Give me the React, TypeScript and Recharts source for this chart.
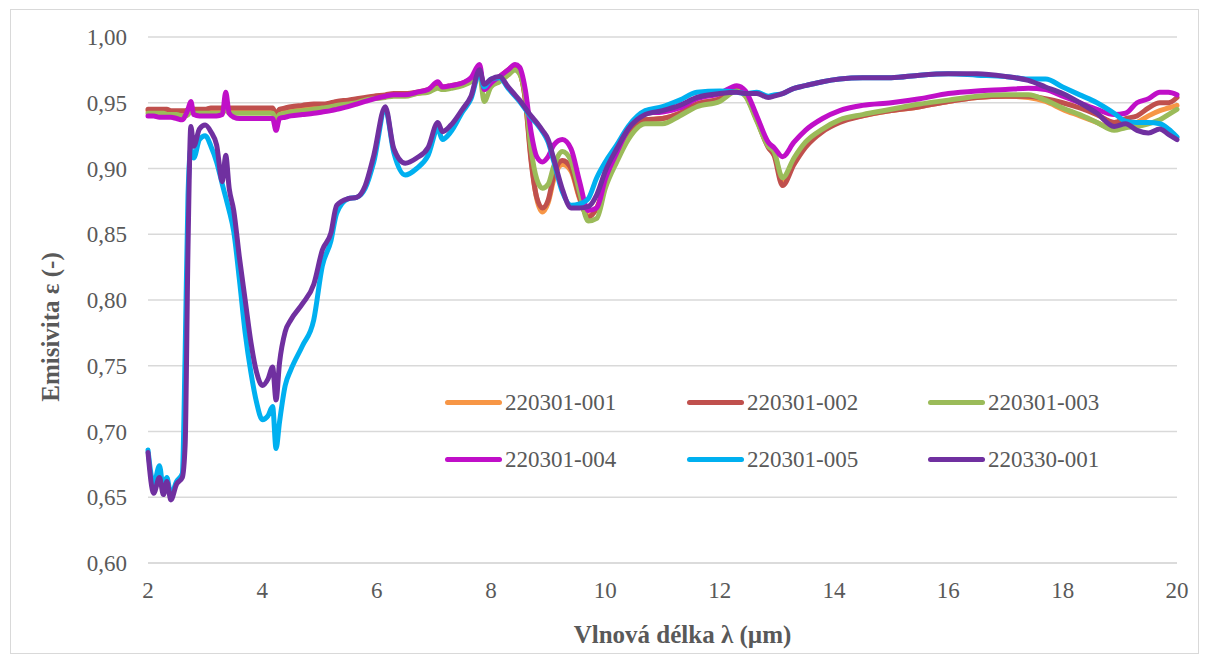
import React from 'react';
import { LineChart, Line, XAxis, YAxis, CartesianGrid, Legend, Label } from 'recharts';

// Wavelength grid (µm)
const wavelengths = [
  2.0, 2.1, 2.2, 2.27, 2.33, 2.4, 2.5, 2.6, 2.65, 2.7,
  2.75, 2.8, 2.9, 3.0, 3.1, 3.2, 3.3, 3.36, 3.42, 3.5,
  3.6, 3.7, 3.8, 3.9, 4.0, 4.1, 4.18, 4.24, 4.3, 4.4,
  4.5, 4.7, 4.9, 5.05, 5.2, 5.3, 5.5, 5.65, 5.8, 5.95,
  6.15, 6.3, 6.5, 6.7, 6.9, 7.07, 7.15, 7.3, 7.5, 7.65,
  7.8, 7.88, 8.0, 8.15, 8.3, 8.42, 8.5, 8.6, 8.7, 8.8,
  8.9, 9.0, 9.1, 9.25, 9.4, 9.55, 9.7, 9.85, 10.0, 10.2,
  10.4, 10.7, 11.0, 11.3, 11.6, 12.0, 12.3, 12.45, 12.65, 12.85,
  12.95, 13.1, 13.3, 13.5, 13.8, 14.1, 14.5, 15.0, 15.5, 16.0,
  16.5, 17.0, 17.4, 17.7, 18.0, 18.3, 18.6, 18.9, 19.1, 19.3,
  19.5, 19.7, 19.85, 20.0,
];

const s220301_001 = [
  0.944, 0.944, 0.944, 0.944, 0.944, 0.943, 0.943, 0.943, 0.943, 0.944,
  0.946, 0.944, 0.944, 0.944, 0.945, 0.945, 0.945, 0.947, 0.945, 0.945,
  0.945, 0.945, 0.945, 0.945, 0.945, 0.945, 0.945, 0.940, 0.944, 0.945,
  0.946, 0.947, 0.948, 0.948, 0.949, 0.950, 0.951, 0.952, 0.953, 0.954,
  0.955, 0.956, 0.956, 0.957, 0.959, 0.962, 0.961, 0.962, 0.964, 0.967,
  0.974, 0.960, 0.965, 0.969, 0.974, 0.977, 0.973, 0.953, 0.908, 0.877,
  0.867, 0.874, 0.892, 0.903, 0.898, 0.877, 0.864, 0.870, 0.888, 0.909,
  0.925, 0.937, 0.938, 0.942, 0.949, 0.953, 0.960, 0.956, 0.937, 0.917,
  0.912, 0.891, 0.905, 0.917, 0.929, 0.936, 0.940, 0.944, 0.947, 0.951,
  0.954, 0.955, 0.954, 0.951, 0.945, 0.940, 0.935, 0.930, 0.932, 0.935,
  0.940, 0.944, 0.946, 0.948,
];

const s220301_002 = [
  0.945, 0.945, 0.945, 0.945, 0.945, 0.944, 0.944, 0.944, 0.944, 0.945,
  0.947, 0.945, 0.945, 0.945, 0.946, 0.946, 0.946, 0.948, 0.946, 0.946,
  0.946, 0.946, 0.946, 0.946, 0.946, 0.946, 0.946, 0.941, 0.945, 0.946,
  0.947, 0.948, 0.949, 0.949, 0.950, 0.951, 0.952, 0.953, 0.954, 0.955,
  0.956, 0.957, 0.957, 0.958, 0.960, 0.963, 0.962, 0.963, 0.965, 0.968,
  0.975, 0.962, 0.966, 0.970, 0.975, 0.978, 0.974, 0.952, 0.906, 0.878,
  0.870, 0.876, 0.895, 0.906, 0.900, 0.878, 0.863, 0.870, 0.888, 0.910,
  0.925, 0.937, 0.938, 0.942, 0.949, 0.953, 0.960, 0.956, 0.937, 0.916,
  0.910, 0.887, 0.903, 0.916, 0.928, 0.935, 0.940, 0.944, 0.947, 0.951,
  0.954, 0.955, 0.955, 0.953, 0.950, 0.946, 0.941, 0.935, 0.938, 0.940,
  0.946, 0.950, 0.950, 0.954,
];

const s220301_003 = [
  0.942, 0.942, 0.942, 0.942, 0.941, 0.941, 0.941, 0.940, 0.940, 0.941,
  0.944, 0.942, 0.942, 0.942, 0.942, 0.942, 0.942, 0.945, 0.942, 0.942,
  0.942, 0.942, 0.942, 0.942, 0.942, 0.942, 0.942, 0.937, 0.941, 0.942,
  0.943, 0.944, 0.945, 0.946, 0.947, 0.948, 0.949, 0.950, 0.952, 0.953,
  0.954, 0.955, 0.955, 0.957, 0.958, 0.961, 0.960, 0.961, 0.963, 0.966,
  0.972, 0.951, 0.962, 0.966, 0.971, 0.975, 0.972, 0.955, 0.915, 0.892,
  0.885, 0.888, 0.902, 0.913, 0.906, 0.882, 0.860, 0.862, 0.885, 0.905,
  0.922, 0.934, 0.934, 0.940, 0.947, 0.951, 0.959, 0.955, 0.936, 0.917,
  0.913, 0.893, 0.908, 0.920, 0.930, 0.937, 0.941, 0.945, 0.949, 0.952,
  0.955, 0.956, 0.956, 0.952, 0.946, 0.941, 0.935, 0.929, 0.931, 0.932,
  0.934, 0.937, 0.941, 0.945,
];

const s220301_004 = [
  0.940, 0.940, 0.939, 0.939, 0.939, 0.939, 0.938, 0.937, 0.940, 0.945,
  0.951, 0.941, 0.940, 0.940, 0.940, 0.940, 0.941, 0.958, 0.942, 0.939,
  0.938, 0.938, 0.938, 0.938, 0.938, 0.938, 0.938, 0.929, 0.938, 0.939,
  0.940, 0.941, 0.942, 0.943, 0.944, 0.945, 0.947, 0.949, 0.951, 0.953,
  0.955, 0.956, 0.956, 0.958, 0.960, 0.966, 0.962, 0.963, 0.965, 0.969,
  0.979, 0.960, 0.965, 0.970, 0.975, 0.979, 0.977, 0.960, 0.928, 0.909,
  0.905, 0.909, 0.918, 0.922, 0.915, 0.890, 0.868, 0.870, 0.892, 0.912,
  0.930, 0.942, 0.943, 0.946, 0.953, 0.957, 0.963, 0.959, 0.940, 0.920,
  0.916, 0.909, 0.920, 0.929, 0.938, 0.944, 0.948, 0.950, 0.953, 0.957,
  0.959, 0.960, 0.961, 0.960, 0.955, 0.950, 0.945, 0.941, 0.942, 0.950,
  0.953, 0.958, 0.958, 0.956,
];

const s220301_005 = [
  0.686, 0.660, 0.674, 0.656, 0.665, 0.652, 0.662, 0.668, 0.760, 0.880,
  0.915, 0.908, 0.922, 0.925, 0.917, 0.905, 0.888, 0.878, 0.868, 0.852,
  0.815, 0.775, 0.745, 0.722, 0.709, 0.712, 0.719, 0.687, 0.707, 0.735,
  0.747, 0.765, 0.785, 0.826, 0.845, 0.866, 0.877, 0.878, 0.885, 0.905,
  0.945, 0.912, 0.895, 0.900, 0.910, 0.930, 0.922, 0.928, 0.943, 0.953,
  0.973, 0.962, 0.968, 0.969, 0.961, 0.955, 0.951, 0.945, 0.939, 0.934,
  0.928, 0.920, 0.905, 0.882, 0.872, 0.873, 0.877, 0.893, 0.905, 0.918,
  0.932, 0.944, 0.947, 0.952, 0.958, 0.959, 0.958, 0.957, 0.958, 0.955,
  0.956, 0.957, 0.961, 0.963, 0.966, 0.968, 0.969, 0.969, 0.971, 0.972,
  0.971, 0.970, 0.968, 0.968, 0.962, 0.956, 0.950, 0.942, 0.936, 0.935,
  0.935, 0.934, 0.930, 0.924,
];

const s220330_001 = [
  0.684, 0.653, 0.665, 0.652, 0.662, 0.648, 0.660, 0.665, 0.690, 0.840,
  0.932, 0.917, 0.930, 0.933, 0.928, 0.918, 0.890, 0.910, 0.885, 0.868,
  0.832, 0.800, 0.768, 0.745, 0.735, 0.740, 0.749, 0.724, 0.752, 0.776,
  0.785, 0.797, 0.812, 0.838, 0.851, 0.872, 0.877, 0.878, 0.887, 0.910,
  0.947, 0.915, 0.904, 0.908, 0.916, 0.935, 0.928, 0.933, 0.945, 0.955,
  0.975, 0.964, 0.968, 0.970, 0.962, 0.956, 0.952, 0.946, 0.940, 0.935,
  0.929, 0.922, 0.907, 0.884, 0.870, 0.870, 0.871, 0.880, 0.898, 0.915,
  0.930, 0.941, 0.944, 0.948, 0.954, 0.957, 0.958, 0.957, 0.957, 0.954,
  0.955, 0.957, 0.961, 0.963, 0.966, 0.968, 0.969, 0.969, 0.971, 0.972,
  0.972, 0.970, 0.967, 0.962, 0.957, 0.950, 0.942, 0.932, 0.934, 0.929,
  0.927, 0.930, 0.926, 0.922,
];

const seriesNames = ['220301-001', '220301-002', '220301-003', '220301-004', '220301-005', '220330-001'];
const seriesValues = [s220301_001, s220301_002, s220301_003, s220301_004, s220301_005, s220330_001];
const seriesColors = ['#F79646', '#C0504D', '#9BBB59', '#C00FC8', '#00B0F0', '#7030A0'];

const xTicks = [2, 4, 6, 8, 10, 12, 14, 16, 18, 20];
const yTicks = [0.6, 0.65, 0.7, 0.75, 0.8, 0.85, 0.9, 0.95, 1.0];

const xTitle = 'Vlnová délka λ (µm)';
const yTitle = 'Emisivita ε (-)';

const data = wavelengths.map((w, i) => {
  const row: Record<string, number> = { w };
  seriesValues.forEach((arr, k) => {
    row['s' + k] = arr[i];
  });
  return row;
});

const FONT = '"Liberation Serif", "Times New Roman", serif';
const TEXT = '#595959';
const GRID = '#d9d9d9';

const legendCols = [0, 242, 483];

const renderLegend = () => (
  <div style={{ position: 'relative', width: 700, height: 114, fontFamily: FONT }}>
    {seriesNames.map((n, i) => {
      const col = i % 3;
      const row = Math.floor(i / 3);
      return (
        <div
          key={n}
          style={{
            position: 'absolute',
            left: legendCols[col],
            top: row * 57,
            height: 57,
            display: 'flex',
            alignItems: 'center',
          }}
        >
          <div style={{ width: 57, height: 5, borderRadius: 3, background: seriesColors[i] }} />
          <span style={{ marginLeft: 3, fontSize: 23, color: TEXT, whiteSpace: 'nowrap', lineHeight: '57px' }}>{n}</span>
        </div>
      );
    })}
  </div>
);

export default function App() {
  return (
    <div style={{ position: 'absolute', left: 0, top: 0, width: 1209, height: 664, background: '#fff' }}>
      <div
        style={{
          position: 'absolute',
          left: 10,
          top: 9,
          width: 1189,
          height: 645,
          border: '1px solid #d9d9d9',
          boxSizing: 'border-box',
        }}
      />
      <LineChart
        width={1209}
        height={664}
        data={data}
        margin={{ top: 37, right: 32, left: 0, bottom: 61 }}
      >
        <CartesianGrid horizontal vertical={false} stroke={GRID} strokeWidth={1.3} />
        <XAxis
          dataKey="w"
          type="number"
          domain={[2, 20]}
          ticks={xTicks}
          height={40}
          axisLine={{ stroke: GRID, strokeWidth: 1.3 }}
          tickLine={false}
          tickSize={0}
          tickMargin={19}
          interval={0}
          tick={{ fill: TEXT, fontSize: 23, fontFamily: FONT }}
        >
          <Label
            content={(p: any) => {
              const vb = p.viewBox || { x: 148, y: 563, width: 1029 };
              return (
                <text
                  x={vb.x + vb.width / 2 + 20}
                  y={vb.y + 80}
                  textAnchor="middle"
                  fill={TEXT}
                  fontFamily={FONT}
                  fontWeight="bold"
                  fontSize={25}
                >
                  {xTitle}
                </text>
              );
            }}
          />
        </XAxis>
        <YAxis
          type="number"
          domain={[0.6, 1.0]}
          ticks={yTicks}
          width={148}
          axisLine={false}
          tickLine={false}
          tickSize={0}
          tickMargin={21}
          interval={0}
          tickFormatter={(v: number) => v.toFixed(2).replace('.', ',')}
          tick={{ fill: TEXT, fontSize: 23, fontFamily: FONT }}
        >
          <Label
            content={() => (
              <text
                x={50}
                y={327}
                transform="rotate(-90 50 327)"
                textAnchor="middle"
                dominantBaseline="central"
                fill={TEXT}
                fontFamily={FONT}
                fontWeight="bold"
                fontSize={25}
              >
                {yTitle}
              </text>
            )}
          />
        </YAxis>
        <Legend
          layout="horizontal"
          verticalAlign="middle"
          align="center"
          content={renderLegend}
          wrapperStyle={{ position: 'absolute', left: 445, top: 374, width: 700, height: 114 }}
        />
        {seriesNames.map((n, i) => (
          <Line
            key={n}
            name={n}
            dataKey={'s' + i}
            type="monotone"
            stroke={seriesColors[i]}
            strokeWidth={5}
            strokeLinejoin="round"
            strokeLinecap="round"
            dot={false}
            activeDot={false}
            isAnimationActive={false}
          />
        ))}
      </LineChart>
    </div>
  );
}
